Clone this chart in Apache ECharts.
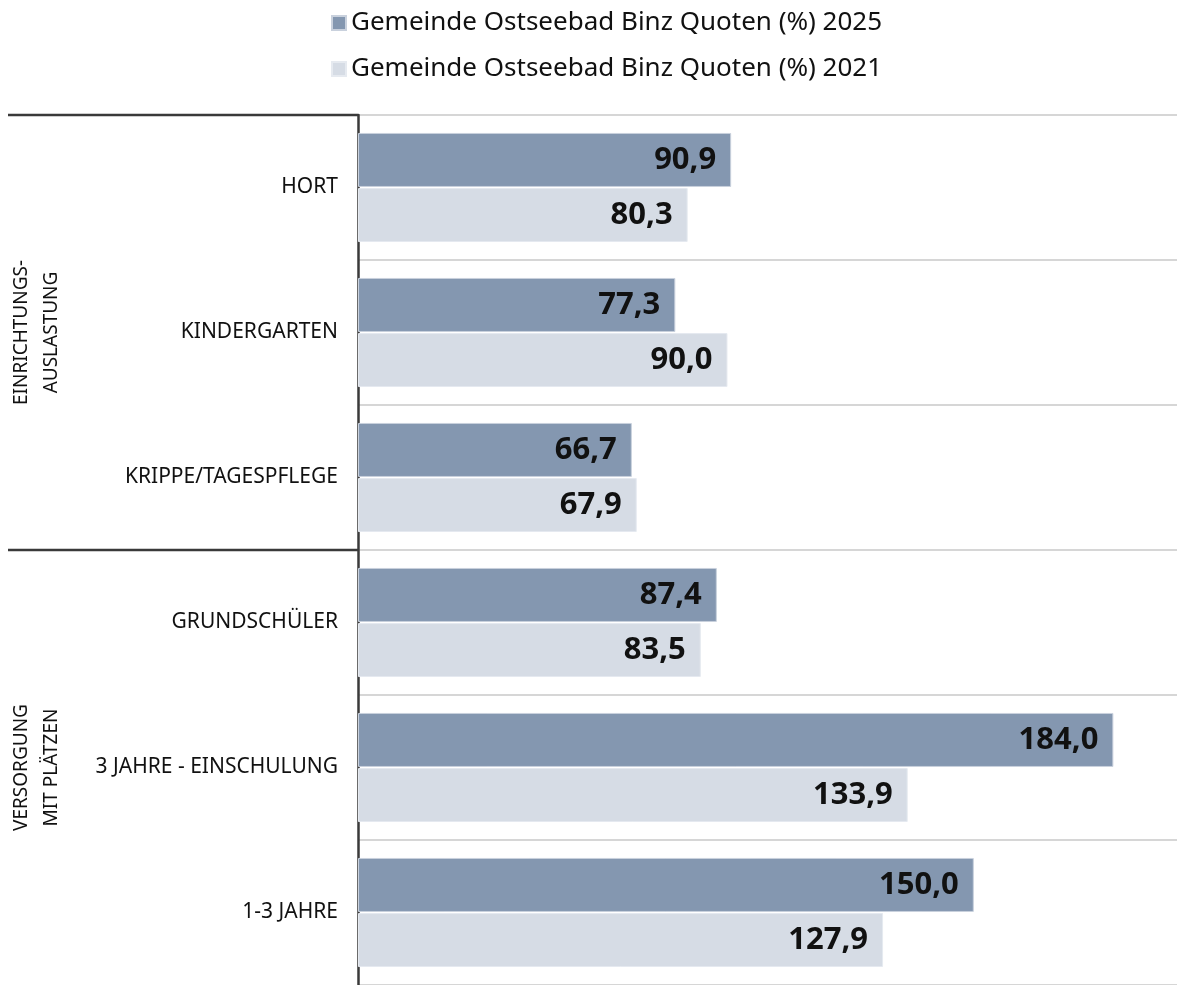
<!DOCTYPE html>
<html><head><meta charset="utf-8">
<script src="https://cdn.jsdelivr.net/npm/echarts@6/dist/echarts.min.js"></script>
<style>html,body{margin:0;padding:0;background:#fff}#c{width:1177px;height:985px}</style>
</head><body><div id="c"></div>
<script>
const categories = ['HORT','KINDERGARTEN','KRIPPE/TAGESPFLEGE','GRUNDSCHÜLER','3 JAHRE - EINSCHULUNG','1-3 JAHRE'];
const values2025 = [90.9, 77.3, 66.7, 87.4, 184.0, 150.0];
const values2021 = [80.3, 90.0, 67.9, 83.5, 133.9, 127.9];
const seriesNames = ['Gemeinde Ostseebad Binz Quoten (%) 2025','Gemeinde Ostseebad Binz Quoten (%) 2021'];
const groups = [
  {label: 'EINRICHTUNGS-\nAUSLASTUNG', from: 0, to: 2},
  {label: 'VERSORGUNG\nMIT PLÄTZEN', from: 3, to: 5}
];
const FONT = 'Noto Sans';
const chart = echarts.init(document.getElementById('c'), null, {renderer: 'canvas'});
const labelCfg = {
  show: true, position: 'insideRight', distance: 15,
  fontFamily: FONT, fontWeight: 'bold', fontSize: 31, color: '#111',
  formatter: p => p.value.toFixed(1).replace('.', ',')
};
chart.setOption({
  animation: false,
  textStyle: {fontFamily: FONT},
  legend: {
    orient: 'vertical', left: 326, top: 5, itemGap: 20,
    itemWidth: 14, itemHeight: 14, icon: 'rect',
    textStyle: {fontFamily: FONT, fontSize: 26, color: '#111'},
    data: seriesNames
  },
  grid: {left: 358, right: 0, top: 115, bottom: 0, containLabel: false},
  xAxis: {type: 'value', min: 0, max: 199.5, show: false},
  yAxis: {
    type: 'category', inverse: true, data: categories,
    axisLine: {show: true, lineStyle: {color: '#3a3a3a', width: 2.5}},
    axisTick: {show: false},
    axisLabel: {fontFamily: FONT, fontSize: 21, color: '#111', margin: 20},
    splitLine: {show: true, lineStyle: {color: '#c8c8c8', width: 1.5}}
  },
  series: [
    {name: seriesNames[0], type: 'bar', data: values2025, barWidth: 54, barGap: '2%',
     itemStyle: {color: '#8497b0', borderColor: '#c9d1dd', borderWidth: 1}, label: labelCfg},
    {name: seriesNames[1], type: 'bar', data: values2021, barWidth: 54, barGap: '2%',
     itemStyle: {color: '#d6dce5', borderColor: '#e6eaf0', borderWidth: 1}, label: labelCfg}
  ]
});
// group brackets and labels from the axis scale
const c0 = chart.convertToPixel({yAxisIndex: 0}, categories[0]);
const c1 = chart.convertToPixel({yAxisIndex: 0}, categories[1]);
const band = c1 - c0;
const axisX = chart.convertToPixel({xAxisIndex: 0}, 0);
const elements = [];
groups.forEach(g => {
  const yTop = chart.convertToPixel({yAxisIndex: 0}, categories[g.from]) - band / 2;
  const yBot = chart.convertToPixel({yAxisIndex: 0}, categories[g.to]) + band / 2;
  elements.push({type: 'line', shape: {x1: 8, y1: yTop, x2: axisX, y2: yTop},
    style: {stroke: '#3a3a3a', lineWidth: 2.5}, z: 10});
  elements.push({type: 'text', x: 37, y: (yTop + yBot) / 2, rotation: Math.PI / 2,
    style: {text: g.label, fontFamily: FONT, fontSize: 19, fill: '#111',
      align: 'center', verticalAlign: 'middle', lineHeight: 30}, z: 10});
});
chart.setOption({graphic: {elements}});
</script></body></html>
